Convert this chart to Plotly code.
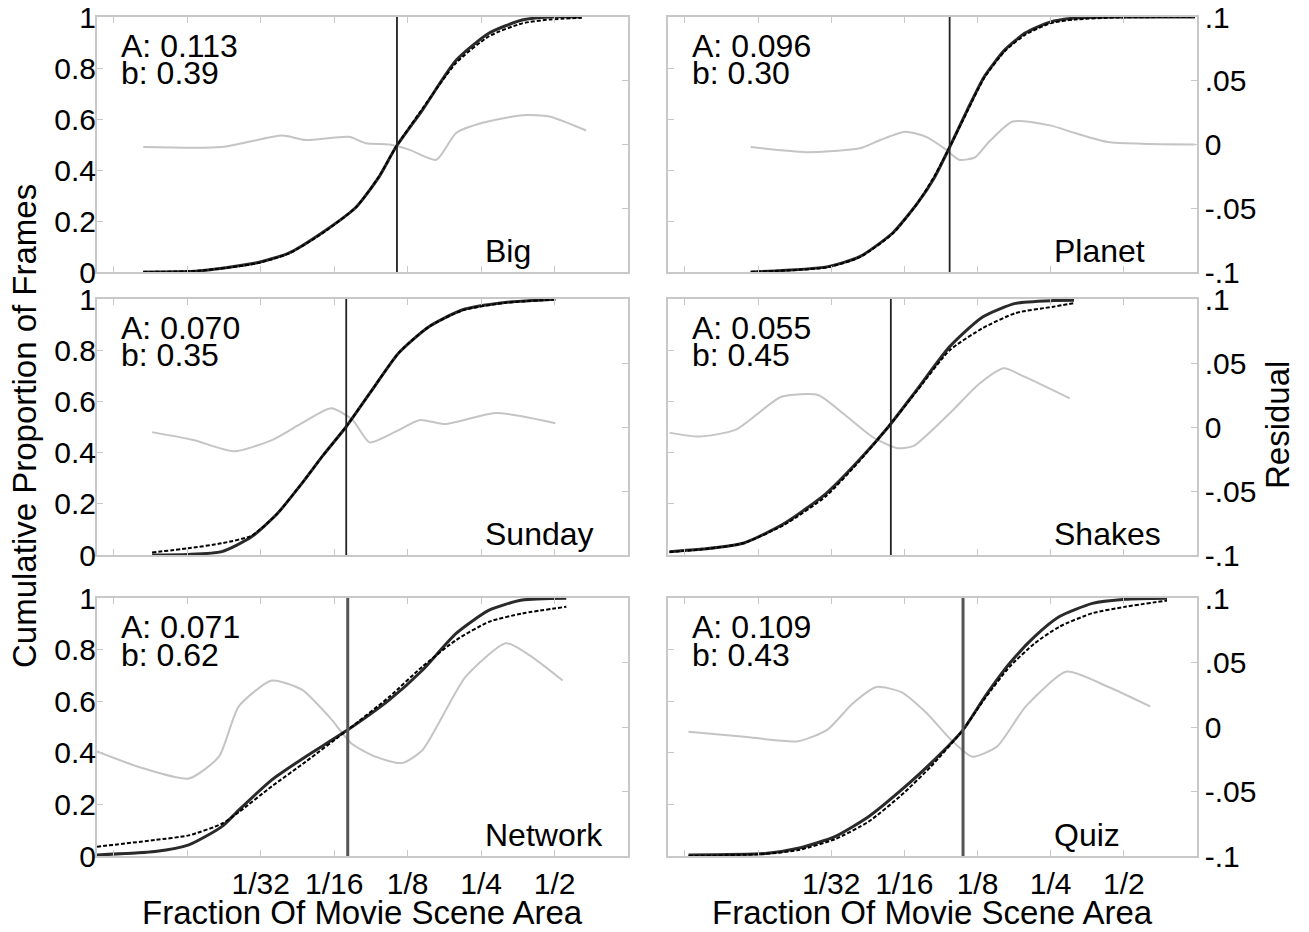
import numpy as np
import plotly.graph_objects as go

# ---------------- data (x given as log2 of fraction of movie scene area) ----------------
names = ["Big", "Planet", "Sunday", "Shakes", "Network", "Quiz"]
A_vals = [0.113, 0.096, 0.070, 0.055, 0.071, 0.109]
b_vals = [0.39, 0.30, 0.35, 0.45, 0.62, 0.43]

big_L = [-6.60, -5.85, -5.07, -4.62, -4.17, -3.70, -3.39, -3.16, -2.80, -2.34, -1.89, -1.44, -1.07, -0.63]
big_cdf = [0.0, 0.004, 0.035, 0.074, 0.153, 0.255, 0.373, 0.49, 0.635, 0.83, 0.937, 0.988, 1.0, 1.0]
big_fit = [0.0, 0.005, 0.033, 0.072, 0.150, 0.255, 0.375, 0.49, 0.640, 0.82, 0.925, 0.975, 0.99, 0.997]
big_res_L = [-6.60, -5.53, -4.71, -4.39, -3.80, -3.57, -3.25, -2.98, -2.61, -2.34, -1.98, -1.44, -1.07, -0.57]
big_res = [-0.002, -0.002, 0.007, 0.0035, 0.006, 0.001, 0.0, -0.004, -0.012, 0.009, 0.017, 0.023, 0.022, 0.011]

planet_L = [-6.10, -5.06, -4.61, -4.16, -3.82, -3.59, -3.38, -3.14, -2.91, -2.63, -2.35, -2.01, -1.67, -1.11, -0.03]
planet_cdf = [0.0, 0.02, 0.06, 0.153, 0.27, 0.37, 0.49, 0.635, 0.765, 0.87, 0.937, 0.98, 0.996, 1.0, 1.0]
planet_fit = [0.0, 0.018, 0.058, 0.15, 0.27, 0.375, 0.49, 0.63, 0.76, 0.865, 0.93, 0.975, 0.99, 0.998, 1.0]
planet_res_L = [-6.10, -5.34, -4.61, -4.33, -3.99, -3.70, -3.43, -3.25, -3.03, -2.86, -2.52, -2.01, -1.67, -1.22, -0.03]
planet_res = [-0.002, -0.006, -0.003, 0.0035, 0.010, 0.006, -0.004, -0.012, -0.010, 0.001, 0.018, 0.015, 0.009, 0.002, 0.0]

sunday_L = [-6.48, -5.99, -5.53, -5.13, -4.78, -4.44, -4.15, -3.84, -3.52, -3.12, -2.72, -2.26, -1.68, -0.99]
sunday_cdf = [0.0, 0.002, 0.013, 0.07, 0.16, 0.28, 0.39, 0.50, 0.63, 0.79, 0.89, 0.957, 0.986, 0.999]
sunday_fit = [0.01, 0.026, 0.046, 0.075, 0.16, 0.28, 0.39, 0.50, 0.63, 0.79, 0.89, 0.955, 0.985, 0.998]
sunday_res_L = [-6.48, -5.93, -5.36, -4.84, -4.44, -4.04, -3.75, -3.52, -3.18, -2.83, -2.49, -1.80, -0.99]
sunday_res = [-0.004, -0.010, -0.019, -0.010, 0.003, 0.0146, 0.0055, -0.012, -0.004, 0.0055, 0.0023, 0.011, 0.003]

shakes_L = [-7.21, -6.76, -6.19, -5.63, -5.07, -4.62, -4.22, -3.83, -3.38, -2.93, -2.48, -1.96, -1.68]
shakes_cdf = [0.013, 0.023, 0.047, 0.125, 0.24, 0.37, 0.50, 0.645, 0.814, 0.93, 0.983, 0.994, 0.995]
shakes_fit = [0.012, 0.022, 0.047, 0.12, 0.23, 0.365, 0.50, 0.64, 0.80, 0.886, 0.945, 0.97, 0.984]
shakes_res_L = [-7.21, -6.81, -6.31, -5.68, -5.18, -4.84, -4.44, -4.11, -3.88, -3.38, -2.98, -2.64, -2.36, -1.74]
shakes_res = [-0.0044, -0.0075, -0.0023, 0.0236, 0.025, 0.0107, -0.0076, -0.0164, -0.015, 0.0107, 0.0336, 0.0459, 0.0393, 0.0224]

network_L = [-7.23, -6.44, -5.98, -5.53, -5.30, -4.85, -4.39, -3.82, -3.25, -2.80, -2.34, -1.89, -1.44, -0.84]
network_cdf = [0.004, 0.017, 0.043, 0.114, 0.178, 0.295, 0.385, 0.488, 0.605, 0.72, 0.863, 0.953, 0.992, 0.999]
network_fit = [0.036, 0.062, 0.080, 0.125, 0.17, 0.27, 0.365, 0.488, 0.617, 0.734, 0.837, 0.908, 0.94, 0.966]
network_res_L = [-7.23, -6.66, -5.98, -5.57, -5.30, -4.85, -4.44, -4.07, -3.76, -3.44, -3.08, -2.80, -2.21, -1.66, -1.30, -0.89]
network_res = [-0.019, -0.031, -0.040, -0.023, 0.016, 0.036, 0.029, 0.008, -0.013, -0.023, -0.028, -0.018, 0.039, 0.065, 0.054, 0.036]

quiz_L = [-6.95, -5.90, -5.45, -4.95, -4.49, -4.04, -3.64, -3.20, -2.90, -2.56, -2.22, -1.88, -1.43, -0.98, -0.41]
quiz_cdf = [0.004, 0.01, 0.03, 0.075, 0.152, 0.256, 0.359, 0.488, 0.617, 0.747, 0.85, 0.928, 0.979, 0.995, 0.999]
quiz_fit = [0.0, 0.008, 0.023, 0.065, 0.133, 0.236, 0.346, 0.488, 0.61, 0.734, 0.824, 0.889, 0.941, 0.966, 0.99]
quiz_res_L = [-6.95, -6.19, -5.45, -5.05, -4.71, -4.38, -4.04, -3.70, -3.36, -3.07, -2.73, -2.34, -1.78, -1.21, -0.64]
quiz_res = [-0.0036, -0.0075, -0.011, -0.002, 0.018, 0.031, 0.027, 0.011, -0.010, -0.023, -0.015, 0.016, 0.043, 0.031, 0.016]

x_tick_vals = [1/128, 1/64, 1/32, 1/16, 1/8, 1/4, 1/2]
x_tick_text = ["", "", "1/32", "1/16", "1/8", "1/4", "1/2"]
cum_tick_vals = [0, 0.2, 0.4, 0.6, 0.8, 1]
cum_tick_text = ["0", "0.2", "0.4", "0.6", "0.8", "1"]
res_tick_vals = [-0.1, -0.05, 0, 0.05, 0.1]
res_tick_text = ["-.1", "-.05", "0", ".05", ".1"]
x_log2_range = [-7.23, 0.0]

panels = [
    (big_L, big_cdf, big_fit, big_res_L, big_res),
    (planet_L, planet_cdf, planet_fit, planet_res_L, planet_res),
    (sunday_L, sunday_cdf, sunday_fit, sunday_res_L, sunday_res),
    (shakes_L, shakes_cdf, shakes_fit, shakes_res_L, shakes_res),
    (network_L, network_cdf, network_fit, network_res_L, network_res),
    (quiz_L, quiz_cdf, quiz_fit, quiz_res_L, quiz_res),
]

# ---------------- layout geometry ----------------
W, H = 1309, 932
col_px = [(97, 628), (668, 1197)]
row_px = [(17, 272), (299, 555), (598, 856)]
FONT = "Liberation Sans, Arial, sans-serif"
BOX = "#c8c8c8"

fig = go.Figure()
layout = dict(
    width=W, height=H,
    margin=dict(l=0, r=0, t=0, b=0, pad=0, autoexpand=False),
    paper_bgcolor="white", plot_bgcolor="white", showlegend=False,
    font=dict(family=FONT, color="black"),
)
annotations = []

def sfx(n):
    return "" if n == 1 else str(n)

for i, (L, cdf, fit, rL, res) in enumerate(panels):
    row, col = divmod(i, 2)
    k = i + 1
    ko = i + 7
    xa, ya, yo = "x" + sfx(k), "y" + sfx(k), "y" + sfx(ko)
    x0, x1 = col_px[col]
    y0, y1 = row_px[row]
    xdom = [x0 / W, x1 / W]
    ydom = [1 - y1 / H, 1 - y0 / H]
    bottom = row == 2

    layout["xaxis" + sfx(k)] = dict(
        type="log", domain=xdom, anchor=ya, automargin=False,
        range=[v * np.log10(2) for v in x_log2_range],
        showline=True, linecolor=BOX, linewidth=1.5, mirror="ticks",
        ticks="inside", ticklen=6, tickcolor=BOX, tickwidth=1,
        tickvals=x_tick_vals, ticktext=x_tick_text,
        showticklabels=bottom, tickfont=dict(size=30, family=FONT),
        showgrid=False, zeroline=False,
    )
    layout["yaxis" + sfx(k)] = dict(
        domain=ydom, anchor=xa, side="right", range=[-0.1, 0.1], automargin=False,
        tickvals=res_tick_vals, ticktext=res_tick_text,
        showticklabels=(col == 1), tickfont=dict(size=30, family=FONT),
        ticks="inside", ticklen=6, tickcolor=BOX,
        showline=True, linecolor=BOX, linewidth=1.5, mirror=True,
        showgrid=False, zeroline=False,
    )
    layout["yaxis" + sfx(ko)] = dict(
        overlaying=ya, anchor=xa, side="left", range=[0, 1], automargin=False,
        tickvals=cum_tick_vals, ticktext=cum_tick_text,
        showticklabels=(col == 0), tickfont=dict(size=30, family=FONT),
        ticks="inside", ticklen=6, tickcolor=BOX,
        showline=False, showgrid=False, zeroline=False,
    )

    # residual (light gray, right axis)
    fig.add_trace(go.Scatter(
        x=np.power(2.0, rL), y=res, xaxis=xa, yaxis=ya, mode="lines",
        line=dict(color="#c4c4c4", width=2, shape="spline", smoothing=0.6),
        hoverinfo="skip"))
    # empirical cumulative (solid)
    fig.add_trace(go.Scatter(
        x=np.power(2.0, L), y=cdf, xaxis=xa, yaxis=yo, mode="lines",
        line=dict(color="#2a2a2a", width=3, shape="spline", smoothing=0.6),
        hoverinfo="skip"))
    # fit (dashed)
    fig.add_trace(go.Scatter(
        x=np.power(2.0, L), y=fit, xaxis=xa, yaxis=yo, mode="lines",
        line=dict(color="black", width=2, dash="4px,2px", shape="spline", smoothing=0.6),
        hoverinfo="skip"))
    # vertical line at A
    fig.add_trace(go.Scatter(
        x=[A_vals[i], A_vals[i]], y=[0, 1], xaxis=xa, yaxis=yo, mode="lines",
        line=dict(color="#555555" if bottom else "#222222", width=3 if bottom else 1.8),
        hoverinfo="skip"))

    xd, yd = xa + " domain", ya + " domain"
    annotations += [
        dict(text="A: %.3f" % A_vals[i], xref=xd, yref=yd, x=0.041, y=0.886,
             xanchor="left", yanchor="middle", showarrow=False,
             font=dict(size=32, family=FONT)),
        dict(text="b: %.2f" % b_vals[i], xref=xd, yref=yd, x=0.041, y=0.78,
             xanchor="left", yanchor="middle", showarrow=False,
             font=dict(size=32, family=FONT)),
        dict(text=names[i], xref=xd, yref=yd, x=0.726, y=0.082,
             xanchor="left", yanchor="middle", showarrow=False,
             font=dict(size=32, family=FONT)),
    ]

# axis titles
for c in range(2):
    x0, x1 = col_px[c]
    annotations.append(dict(text="Fraction Of Movie Scene Area", xref="paper", yref="paper",
                            x=(x0 + x1) / 2 / W, y=1 - 912 / H, xanchor="center", yanchor="middle",
                            showarrow=False, font=dict(size=33, family=FONT)))
annotations.append(dict(text="Cumulative Proportion of Frames", xref="paper", yref="paper",
                        x=24 / W, y=1 - 426 / H, xanchor="center", yanchor="middle", textangle=-90,
                        showarrow=False, font=dict(size=33, family=FONT)))
annotations.append(dict(text="Residual", xref="paper", yref="paper",
                        x=1278 / W, y=1 - 425 / H, xanchor="center", yanchor="middle", textangle=-90,
                        showarrow=False, font=dict(size=33, family=FONT)))

layout["annotations"] = annotations
fig.update_layout(**layout)
fig.write_html("out.html")
